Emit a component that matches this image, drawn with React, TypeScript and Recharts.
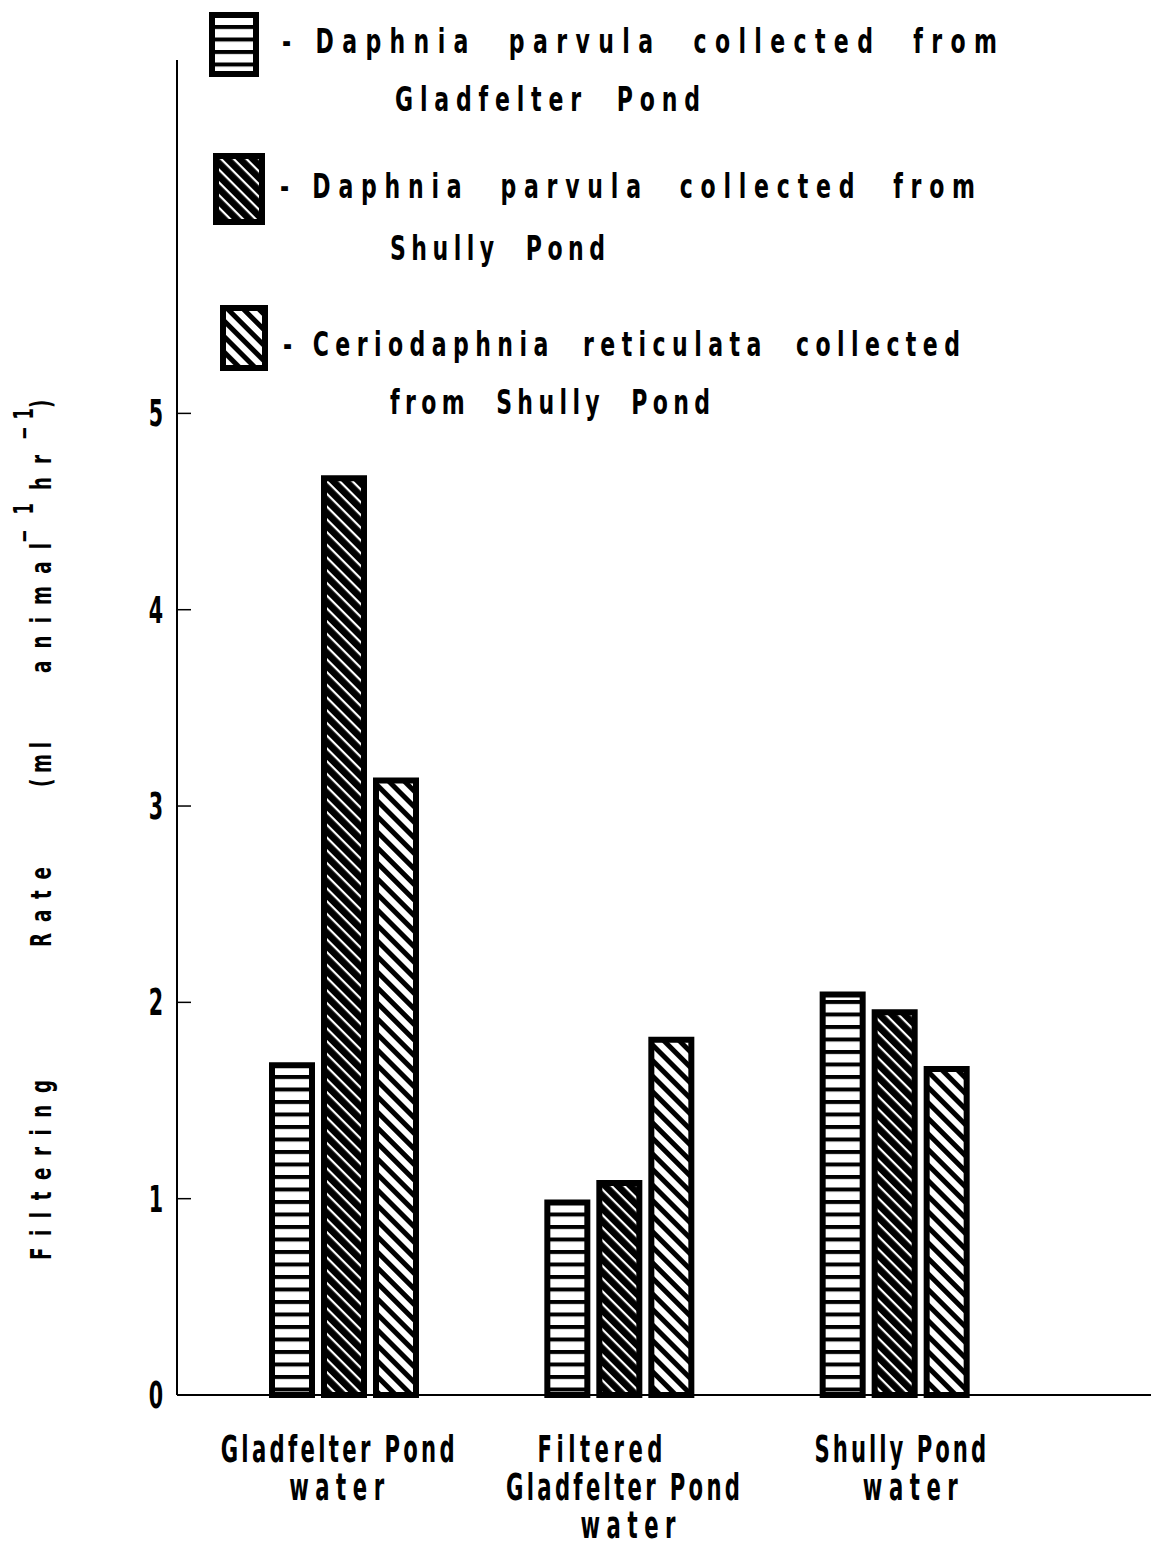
import React from 'react';
import { BarChart, Bar, XAxis, YAxis } from 'recharts';

// values (ml animal^-1 hr^-1)
const CATEGORIES = ['Gladfelter Pond water', 'Filtered Gladfelter Pond water', 'Shully Pond water'];
const CATEGORY_LINES = [['Gladfelter Pond', 'water'], ['Filtered', 'Gladfelter Pond', 'water'], ['Shully Pond', 'water']];
const DAPHNIA_GLADFELTER = [1.68, 0.98, 2.04];
const DAPHNIA_SHULLY = [4.67, 1.08, 1.95];
const CERIO_SHULLY = [3.13, 1.81, 1.66];
const Y_TICKS = [0, 1, 2, 3, 4, 5];
const LEGEND_LINES = [
  ['- Daphnia  parvula  collected  from', 'Gladfelter  Pond'],
  ['- Daphnia  parvula  collected  from', 'Shully  Pond'],
  ['- Ceriodaphnia  reticulata  collected', 'from  Shully  Pond'],
];
const Y_LABEL = ['Filtering', 'Rate', '(ml', 'animal', '\u22121', 'hr', '\u22121', ')'];

const FONT = '"Liberation Sans Narrow", "DejaVu Sans Condensed", "DejaVu Sans", sans-serif';
const FILLS = ['url(#hstripe)', 'url(#darkdiag)', 'url(#lightdiag)'];

const data = CATEGORIES.map((c, i) => ({
  name: c,
  dg: DAPHNIA_GLADFELTER[i],
  ds: DAPHNIA_SHULLY[i],
  cs: CERIO_SHULLY[i],
}));

// layout of the hand-lettered legend, axis title and category labels
const LEGEND_LAYOUT = [
  { sw: { x: 209, y: 12, w: 50, h: 65 }, l1: { x: 282, y: 53, w: 715 }, l2: { x: 395, y: 111, w: 305 } },
  { sw: { x: 213, y: 153, w: 52, h: 72 }, l1: { x: 280, y: 198, w: 695 }, l2: { x: 390, y: 260, w: 215 } },
  { sw: { x: 220, y: 305, w: 48, h: 66 }, l1: { x: 283, y: 356, w: 677 }, l2: { x: 390, y: 414, w: 320 } },
];
const Y_LABEL_LAYOUT = [
  { y: 1260, len: 180, sup: false },
  { y: 947, len: 80, sup: false },
  { y: 787, len: 45, sup: false },
  { y: 673, len: 130, sup: false },
  { y: 543, len: 40, sup: true },
  { y: 490, len: 35, sup: false },
  { y: 440, len: 32, sup: true },
  { y: 408, len: 10, sup: false },
];
const X_LABEL_DX = [[-6, -7], [-19, 4, 9], [6, 16]];

// condensed lettering: squeeze the glyphs horizontally, keep the given width
const CondText = ({ x, y, w, fs, sx = 0.62, anchor = 'start', rotate = false, children }: any) => (
  <g transform={`translate(${x},${y})${rotate ? ' rotate(-90)' : ''} scale(${sx},1)`}>
    <text x={0} y={0} textLength={w ? w / sx : undefined} lengthAdjust="spacing" textAnchor={anchor}
      fontFamily={FONT} fontWeight="bold" fontSize={fs} fill="#000" style={{ whiteSpace: 'pre' }}>
      {children}
    </text>
  </g>
);

const renderYTick = (props: any) => {
  const { x, y, payload } = props;
  return (
    <g>
      <CondText x={x - 21} y={y + 13} fs={37} anchor="middle">{payload.value}</CondText>
      {payload.value !== 0 && <line x1={x} x2={x + 14} y1={y} y2={y} stroke="#000" strokeWidth={1.5} />}
    </g>
  );
};

const renderXTick = (props: any) => {
  const { x, y, index } = props;
  const lines = CATEGORY_LINES[index] || [];
  return (
    <g>
      {lines.map((l, i) => (
        <CondText key={i} x={x + (X_LABEL_DX[index]?.[i] || 0)} y={y + 67 + i * 38} fs={38} anchor="middle"
          w={l === 'water' ? 95 : l.length * 15.6}>
          {l}
        </CondText>
      ))}
    </g>
  );
};

const Overlay = () => (
  <svg width={1151} height={1547} style={{ position: 'absolute', left: 0, top: 0, pointerEvents: 'none' }}>
    <defs>
      <pattern id="hstripe" patternUnits="userSpaceOnUse" width={12} height={12.5}>
        <rect width={12} height={12.5} fill="#fff" />
        <rect y={0} width={12} height={4} fill="#000" />
      </pattern>
      <pattern id="darkdiag" patternUnits="userSpaceOnUse" width={9} height={9} patternTransform="rotate(45)">
        <rect width={9} height={9} fill="#000" />
        <rect y={0} width={9} height={2.2} fill="#fff" />
      </pattern>
      <pattern id="lightdiag" patternUnits="userSpaceOnUse" width={11} height={11} patternTransform="rotate(45)">
        <rect width={11} height={11} fill="#fff" />
        <rect y={0} width={11} height={5} fill="#000" />
      </pattern>
    </defs>
    {LEGEND_LAYOUT.map((lay, i) => (
      <g key={i}>
        <rect x={lay.sw.x + 3} y={lay.sw.y + 3} width={lay.sw.w - 6} height={lay.sw.h - 6}
          fill={FILLS[i]} stroke="#000" strokeWidth={6} />
        <CondText x={lay.l1.x} y={lay.l1.y} w={lay.l1.w} fs={34} sx={0.72}>{LEGEND_LINES[i][0]}</CondText>
        <CondText x={lay.l2.x} y={lay.l2.y} w={lay.l2.w} fs={34} sx={0.72}>{LEGEND_LINES[i][1]}</CondText>
      </g>
    ))}
    {Y_LABEL.map((t, i) => {
      const lay = Y_LABEL_LAYOUT[i];
      return (
        <CondText key={i} x={lay.sup ? 33 : 51} y={lay.y} w={lay.len} fs={lay.sup ? 26 : 29} sx={0.7} rotate>
          {t}
        </CondText>
      );
    })}
  </svg>
);

export default function App() {
  return (
    <div style={{ position: 'absolute', left: 0, top: 0, width: 1151, height: 1547, background: '#fff' }}>
      <BarChart width={1151} height={1547} data={data} barSize={40} barGap={12}
        margin={{ top: 60, right: 0, bottom: 12, left: 117 }}>
        <XAxis dataKey="name" height={140} padding={{ left: 29, right: 119 }} tickLine={false} tickSize={0}
          tickMargin={0} axisLine={{ stroke: '#000', strokeWidth: 2 }} tick={renderXTick} interval={0} />
        <YAxis width={60} domain={[0, 6.8]} ticks={Y_TICKS} tickLine={false} tickSize={0} tickMargin={0}
          axisLine={{ stroke: '#000', strokeWidth: 2 }} tick={renderYTick} interval={0} />
        <Bar dataKey="dg" fill={FILLS[0]} stroke="#000" strokeWidth={6} isAnimationActive={false} />
        <Bar dataKey="ds" fill={FILLS[1]} stroke="#000" strokeWidth={6} isAnimationActive={false} />
        <Bar dataKey="cs" fill={FILLS[2]} stroke="#000" strokeWidth={6} isAnimationActive={false} />
      </BarChart>
      <Overlay />
    </div>
  );
}
